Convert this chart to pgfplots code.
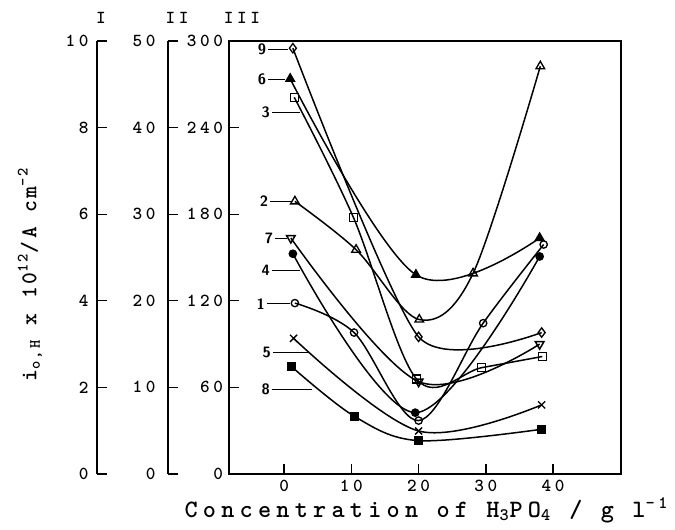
\documentclass[border=0pt]{standalone}
\usepackage{fontspec}
\usepackage{pgfplots}
\pgfplotsset{compat=1.18}
\newfontfamily\ttTick{lmmonolt10-bold}[Extension=.otf, LetterSpace=20]
\newfontfamily\ttXlab{lmmonolt10-bold}[Extension=.otf, LetterSpace=21]
\newfontfamily\ttYlab{lmmonolt10-bold}[Extension=.otf, LetterSpace=12]
\newcommand{\tickf}{\ttTick\fontsize{11}{12}\selectfont}
\newcommand{\numf}{\sffamily\bfseries\fontsize{9}{9}\selectfont}

\pgfplotsset{
  sideaxis/.style={
    anchor=south west, scale only axis, width=20pt, height=259.8pt,
    xmin=0, xmax=1, axis x line=none, axis y line*=left,
    tick align=inside, ytick pos=left, major tick length=6pt,
    axis line style={line width=1pt},
    tick style={line width=0.8pt, black},
    yticklabel style={font=\tickf},
    /pgf/number format/assume math mode=true,
  },
  crv/.style={black, line width=0.9pt, smooth, tension=0.55, mark options={solid, line width=0.8pt}},
}

\begin{document}
\begin{tikzpicture}
% axis I
\begin{axis}[sideaxis, at={(-79.2pt,0pt)}, ymin=0, ymax=10, ytick={0,2,4,6,8,10},
  yticklabel style={xshift=-1.5pt}]
\end{axis}
% axis II
\begin{axis}[sideaxis, at={(-36.6pt,0pt)}, ymin=0, ymax=50, ytick={0,10,20,30,40,50},
  yticklabel style={xshift=-4pt}]
\end{axis}
% main axis (III)
\begin{axis}[
  at={(0pt,0pt)}, anchor=south west,
  scale only axis, width=235.2pt, height=259.8pt,
  xmin=-8.2, xmax=50.1, ymin=0, ymax=300,
  xtick={0,10,20,30,40}, ytick={0,60,120,180,240,300},
  tick align=inside, xtick pos=left, ytick pos=left,
  major tick length=6pt,
  axis line style={line width=1pt},
  tick style={line width=0.8pt, black},
  ticklabel style={font=\tickf},
  /pgf/number format/assume math mode=true,
]
% 1 open circle
\addplot[crv, mark=o, mark size=2.2pt] coordinates {(1.6,118.4) (10.4,98) (20,37) (29.6,104.5) (38.6,159)};
% 2 open triangle
\addplot[crv, mark=triangle, mark size=3pt] coordinates {(1.6,188.9) (10.7,155.4) (20.1,107) (28.1,139) (38.1,282.5)};
% 3 open square
\addplot[crv, mark=square, mark size=2.4pt] coordinates {(1.5,261) (10.3,177.8) (19.7,65.7) (29.4,73.7) (38.4,81.4)};
% 4 filled circle
\addplot[crv, mark=*, mark size=2.2pt] coordinates {(1.3,152.6) (19.5,42.5) (38,150.7)};
% 5 cross
\addplot[crv, mark=x, mark size=3pt] coordinates {(1.4,94) (20,29.8) (38.3,47.9)};
% 6 filled triangle
\addplot[crv, mark=triangle*, mark size=3pt] coordinates {(0.9,273.8) (19.6,138) (38,163.5)};
% 7 open inverted triangle
\addplot[crv, mark=triangle, mark size=3pt, mark options={rotate=180}] coordinates {(1.0,163.5) (20,64) (38,90)};
% 8 filled square
\addplot[crv, mark=square*, mark size=2.4pt] coordinates {(1.1,74.4) (10.5,39.8) (20,23.1) (38.3,31)};
% 9 open diamond
\addplot[crv, tension=0.4, mark=diamond, mark size=2.8pt] coordinates {(1.3,295) (20,95) (38.3,98)};

% curve labels with leader lines
\draw[line width=0.6pt] (axis cs:-2.38,294.1) -- (axis cs:0.6,294.1);
\node[font=\numf, anchor=east, inner sep=1pt] at (axis cs:-2.38,294.1) {9};
\draw[line width=0.6pt] (axis cs:-2.38,273.3) -- (axis cs:0.2,273.3);
\node[font=\numf, anchor=east, inner sep=1pt] at (axis cs:-2.38,273.3) {6};
\draw[line width=0.6pt] (axis cs:-1.83,250.4) -- (axis cs:2.38,250.4);
\node[font=\numf, anchor=east, inner sep=1pt] at (axis cs:-1.83,250.4) {3};
\draw[line width=0.6pt] (axis cs:-2.08,188.9) -- (axis cs:1.1,188.9);
\node[font=\numf, anchor=east, inner sep=1pt] at (axis cs:-2.08,188.9) {2};
\draw[line width=0.6pt] (axis cs:-1.34,163.5) -- (axis cs:0.4,163.5);
\node[font=\numf, anchor=east, inner sep=1pt] at (axis cs:-1.34,163.5) {7};
\draw[line width=0.6pt] (axis cs:-1.83,141) -- (axis cs:2.38,141);
\node[font=\numf, anchor=east, inner sep=1pt] at (axis cs:-1.83,141) {4};
\draw[line width=0.6pt] (axis cs:-2.57,117.9) -- (axis cs:0.9,117.9);
\node[font=\numf, anchor=east, inner sep=1pt] at (axis cs:-2.57,117.9) {1};
\draw[line width=0.6pt] (axis cs:-1.68,84.4) -- (axis cs:3.86,84.4);
\node[font=\numf, anchor=east, inner sep=1pt] at (axis cs:-1.68,84.4) {5};
\draw[line width=0.6pt] (axis cs:-1.83,58.7) -- (axis cs:4.12,58.7);
\node[font=\numf, anchor=east, inner sep=1pt] at (axis cs:-1.83,58.7) {8};
\end{axis}

% roman numerals
\node[font=\tickf] at (-76.8pt,273.6pt) {I};
\node[font=\tickf] at (-31.2pt,273.6pt) {II};
\node[font=\tickf] at (7.8pt,273.6pt) {III};

% axis labels
\node[font=\ttXlab\fontsize{15}{15}\selectfont] at (118.5pt,-21.6pt) {Concentration of H\textsubscript{3}PO\textsubscript{4} / g l\textsuperscript{-1}};
\node[font=\ttYlab\fontsize{13.5}{13.5}\selectfont, rotate=90] at (-119.4pt,120pt) {i\textsubscript{o,H} x 10\textsuperscript{12}/A cm\textsuperscript{-2}};

% canvas extent
\path (-137.4pt,-33.6pt) rectangle (267.6pt,284.4pt);
\end{tikzpicture}
\end{document}
